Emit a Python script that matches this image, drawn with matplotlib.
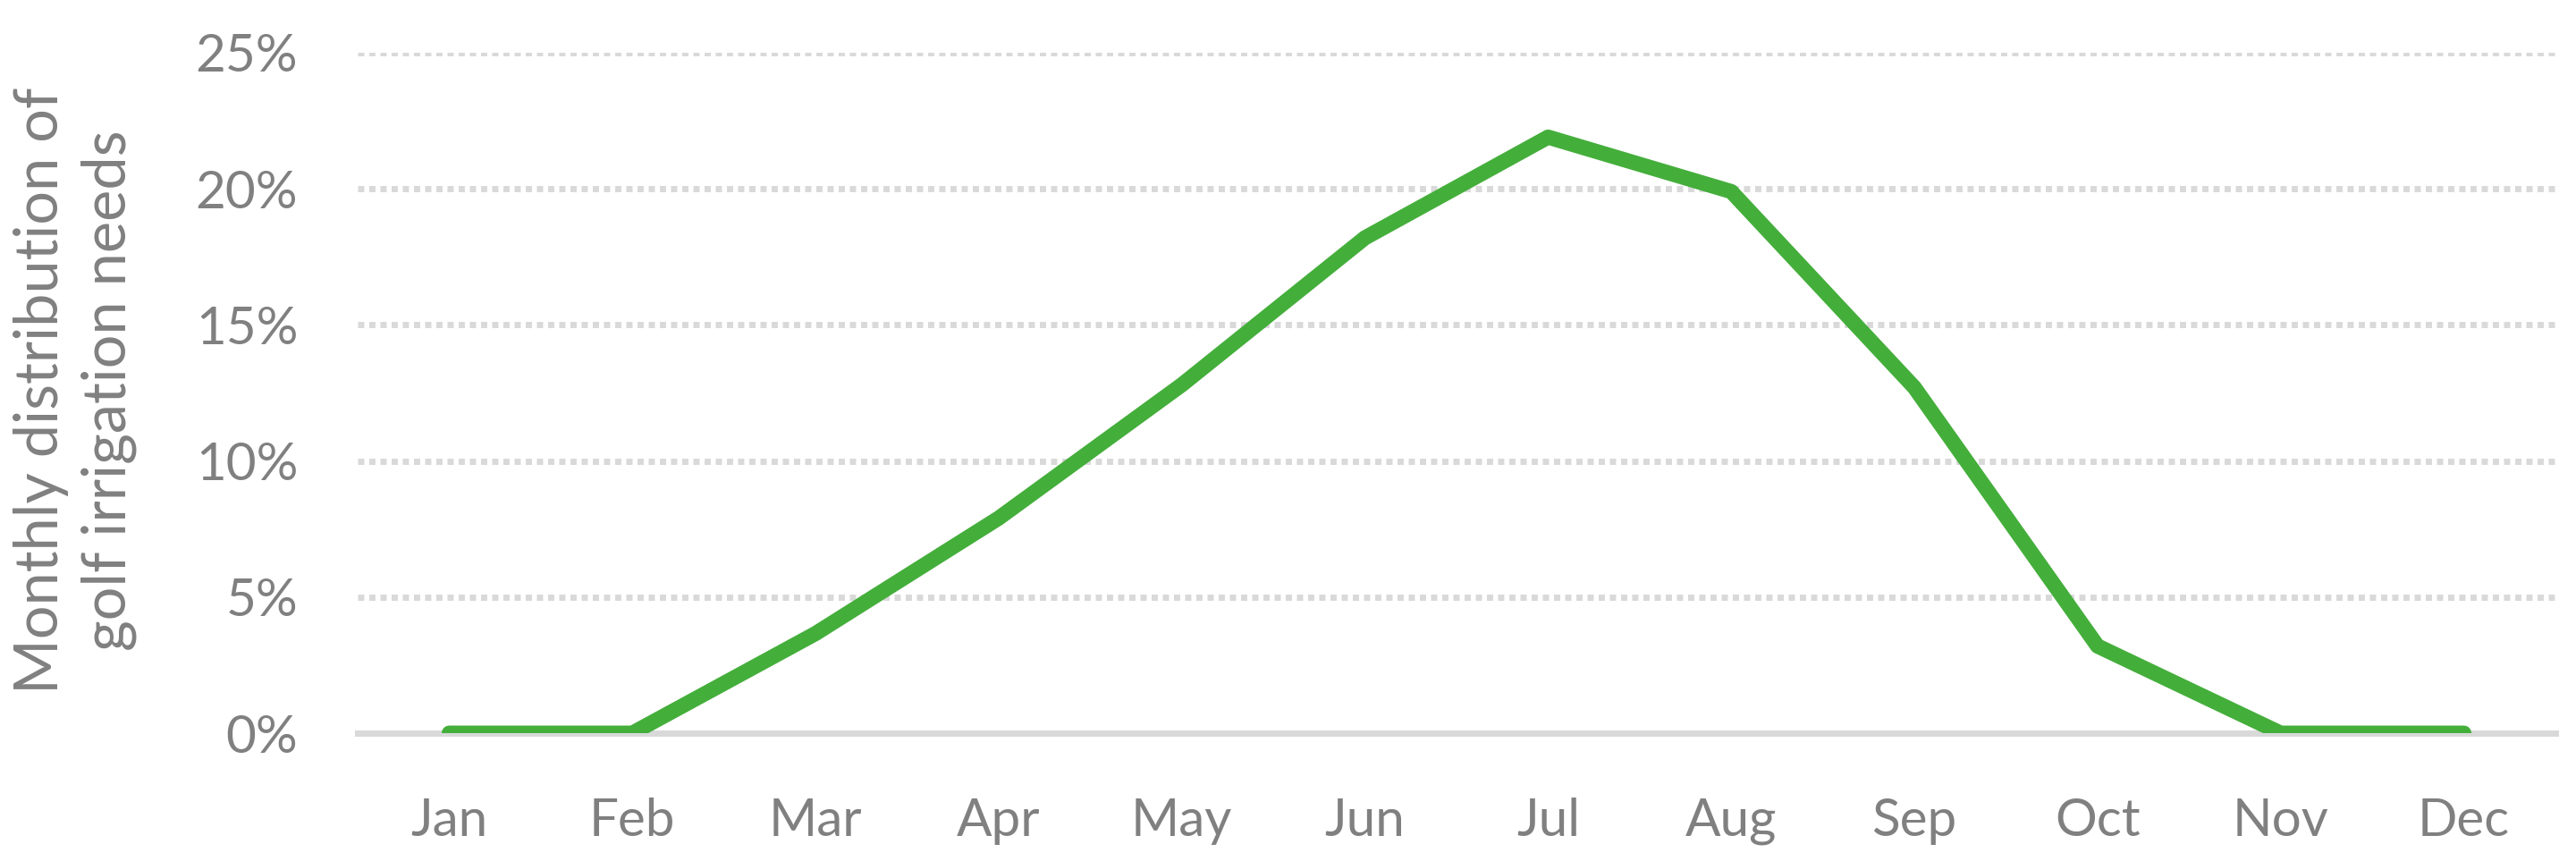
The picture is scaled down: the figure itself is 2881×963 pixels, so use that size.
import matplotlib
matplotlib.use("Agg")
import matplotlib.pyplot as plt
from matplotlib.ticker import FuncFormatter

months = ["Jan", "Feb", "Mar", "Apr", "May", "Jun", "Jul", "Aug", "Sep", "Oct", "Nov", "Dec"]
share_pct = [0.0, 0.0, 3.66, 7.9, 12.8, 18.2, 21.9, 19.9, 12.7, 3.2, 0.0, 0.0]
y_ticks = [0, 5, 10, 15, 20, 25]
y_label = "Monthly distribution of\ngolf irrigation needs"

plt.rcParams['font.family'] = ['Lato', 'DejaVu Sans']
GRAY = "#808080"
GRID = "#D9D9D9"
GREEN = "#44AE3B"

fig = plt.figure(figsize=(28.81, 9.63), dpi=100)
ax = fig.add_axes([400/2881, (963-820)/963, (2858-400)/2881, (820-59)/963])

x = list(range(len(months)))
ax.plot(x, share_pct, color=GREEN, linewidth=12.2, solid_capstyle='round',
        solid_joinstyle='round', zorder=3)

ax.set_xlim(-0.5, len(months) - 0.5)
ax.set_ylim(0, 25)
ax.set_yticks(y_ticks)
ax.yaxis.set_major_formatter(FuncFormatter(lambda v, p: f"{int(v)}%"))
ax.set_xticks(x)
ax.set_xticklabels(months)

for s in ["top", "right", "left"]:
    ax.spines[s].set_visible(False)
ax.spines["bottom"].set_color(GRID)
ax.spines["bottom"].set_linewidth(5)
ax.spines["bottom"].set_zorder(2)

ax.yaxis.grid(True, color=GRID, linewidth=5, linestyle=(0, (1.0, 0.8)))
ax.set_axisbelow(True)

ax.tick_params(axis='both', length=0, labelsize=42, labelcolor=GRAY)
ax.tick_params(axis='y', pad=48)
ax.tick_params(axis='x', pad=52)

fig.text(84/2881, 1 - 437/963, y_label, rotation=90, ha='center', va='center',
         multialignment='center', fontsize=48, color=GRAY, linespacing=1.28)

fig.savefig("out.png", dpi=100, facecolor="white")
